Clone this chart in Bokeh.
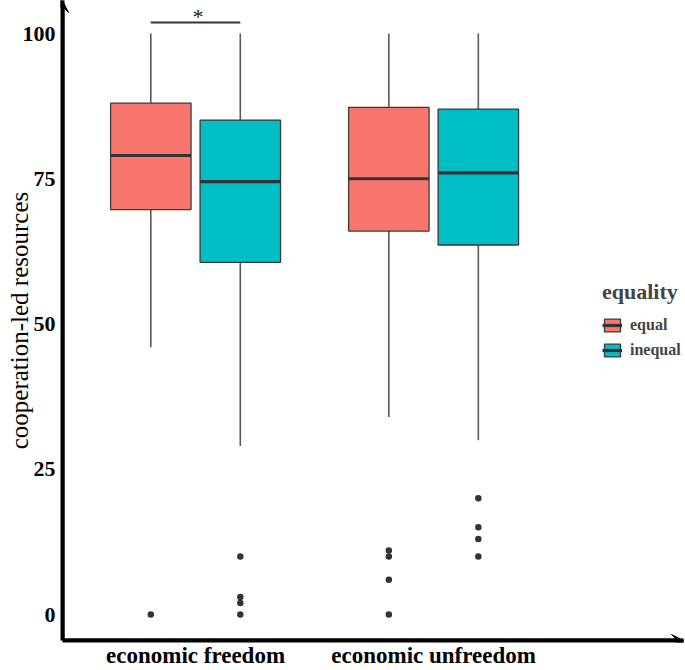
import math
from bokeh.plotting import figure
from bokeh.models import (ColumnDataSource, FixedTicker, Range1d, Legend, LegendItem,
                          Label, Arrow, VeeHead)
from bokeh.embed import file_html
from bokeh.resources import INLINE

# ---------------- data ----------------
categories = ["economic freedom", "economic unfreedom"]
groups = ["equal", "inequal"]
group_colors = ["#F8766D", "#00BFC4"]

equal_lower = [46.0, 34.0]
equal_q1 = [69.7, 66.0]
equal_median = [79.0, 75.0]
equal_q3 = [88.0, 87.3]
equal_upper = [100.0, 100.0]
equal_outliers = [[0.0], [0.0, 6.0, 10.0, 11.0]]

inequal_lower = [29.0, 30.0]
inequal_q1 = [60.6, 63.6]
inequal_median = [74.5, 76.0]
inequal_q3 = [85.1, 87.0]
inequal_upper = [100.0, 100.0]
inequal_outliers = [[0.0, 2.0, 3.0, 10.0], [10.0, 13.0, 15.0, 20.0]]

y_ticks = [0, 25, 50, 75, 100]
y_label = "cooperation-led resources"
legend_title = "equality"
signif_label = "*"

# ---------------- figure ----------------
W, H = 685, 670
X0, X1 = 0.441, 3.050
Y0, Y1 = -4.475, 105.68
p = figure(width=W, height=H, output_backend="svg", toolbar_location=None,
           x_range=Range1d(X0, X1), y_range=Range1d(Y0, Y1),
           min_border_left=62, min_border_right=2, min_border_top=0, min_border_bottom=30)
p.outline_line_color = None
p.grid.visible = False
p.background_fill_color = "white"

serif = "Liberation Serif"

dodge = 0.188
box_w = 0.338
cat_pos = [i + 1 for i in range(len(categories))]

stats = {
    "equal": (equal_lower, equal_q1, equal_median, equal_q3, equal_upper, equal_outliers),
    "inequal": (inequal_lower, inequal_q1, inequal_median, inequal_q3, inequal_upper, inequal_outliers),
}

legend_items = []
for gi, g in enumerate(groups):
    lo, q1, med, q3, up, outs = stats[g]
    off = -dodge if gi == 0 else dodge
    xs = [c + off for c in cat_pos]
    src = ColumnDataSource(dict(x=xs, lo=lo, q1=q1, med=med, q3=q3, up=up,
                                x0=[x - box_w / 2 for x in xs], x1=[x + box_w / 2 for x in xs]))
    p.segment(x0="x", y0="lo", x1="x", y1="q1", source=src, line_color="#5a5a5a", line_width=1.6)
    p.segment(x0="x", y0="q3", x1="x", y1="up", source=src, line_color="#5a5a5a", line_width=1.6)
    box = p.vbar(x="x", width=box_w, bottom="q1", top="q3", source=src,
                 fill_color=group_colors[gi], line_color="#3a3a3a", line_width=1.3)
    medr = p.segment(x0="x0", y0="med", x1="x1", y1="med", source=src,
                     line_color="#333333", line_width=3.2)
    ox, oy = [], []
    for x, o in zip(xs, outs):
        ox += [x] * len(o)
        oy += o
    p.scatter(ox, oy, size=6.5, fill_color="#333333", line_color=None)
    legend_items.append(LegendItem(label=g, renderers=[box, medr]))

# significance bar between the two boxes of the first category
p.segment(x0=[cat_pos[0] - dodge], y0=[101.9], x1=[cat_pos[0] + dodge], y1=[101.9],
          line_color="#333333", line_width=2)
p.add_layout(Label(x=cat_pos[0] + 0.01, y=103.0, text=signif_label, text_align="center",
                   text_baseline="middle", text_font=serif, text_font_size="22px",
                   text_color="#222222"))

# axes
p.yaxis.ticker = FixedTicker(ticks=y_ticks)
p.xaxis.ticker = FixedTicker(ticks=cat_pos)
p.xaxis.major_label_overrides = {c: n for c, n in zip(cat_pos, categories)}
for ax in (p.xaxis, p.yaxis):
    ax.axis_line_width = 4
    ax.axis_line_color = "black"
    ax.major_tick_line_color = None
    ax.minor_tick_line_color = None
    ax.major_tick_out = 0
    ax.major_tick_in = 0
    ax.minor_tick_out = 0
    ax.minor_tick_in = 0
    ax.major_label_text_font = serif
    ax.major_label_text_font_style = "bold"
    ax.major_label_text_color = "black"
p.yaxis.major_label_text_font_size = "22px"
p.yaxis.major_label_standoff = 7
p.xaxis.major_label_text_font_size = "23px"
p.xaxis.major_label_standoff = 2

# y axis title
p.yaxis.axis_label = y_label
p.yaxis.axis_label_text_font = serif
p.yaxis.axis_label_text_font_style = "normal"
p.yaxis.axis_label_text_font_size = "25px"
p.yaxis.axis_label_text_color = "black"
p.yaxis.axis_label_standoff = -13

# axis arrow heads
p.add_layout(Arrow(end=VeeHead(size=12, fill_color="black", line_color="black"),
                   x_start=X0, y_start=Y0, x_end=X0, y_end=Y1,
                   line_color="black", line_width=4))
p.add_layout(Arrow(end=VeeHead(size=12, fill_color="black", line_color="black"),
                   x_start=X0, y_start=Y0, x_end=X1, y_end=Y0,
                   line_color="black", line_width=4))

legend = Legend(items=legend_items, title=legend_title, location=(536, 277),
                title_text_font=serif, title_text_font_style="bold", title_text_font_size="22px",
                title_standoff=11, label_text_font=serif, label_text_font_style="bold",
                label_text_font_size="16px", glyph_width=20, glyph_height=16,
                label_standoff=8, spacing=7, padding=4, margin=0,
                border_line_alpha=0, background_fill_alpha=0)
p.add_layout(legend)

open("out.html", "w").write(file_html(p, INLINE))
